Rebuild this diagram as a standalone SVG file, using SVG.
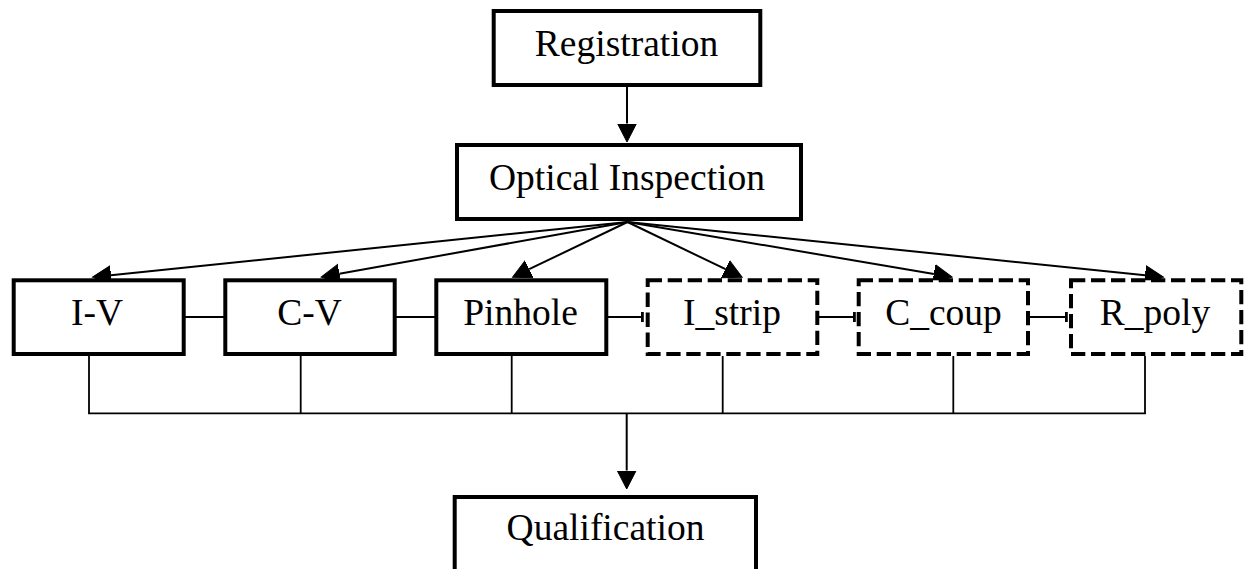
<svg xmlns="http://www.w3.org/2000/svg" width="1253" height="569" viewBox="0 0 1253 569">
<style>
.box{fill:#fff;stroke:#000;stroke-width:4}
.dbox{fill:#fff;stroke:#000;stroke-width:4;stroke-dasharray:14.3 5.7}
.lbl{font-family:"Liberation Serif","Times New Roman",serif;font-size:37.5px;fill:#000;text-anchor:middle}
.arr{fill:none;stroke:#000;stroke-width:2;marker-end:url(#ah)}
.ln{fill:none;stroke:#000;stroke-width:1.8}
.tee{fill:#000}
</style>
<defs>
<marker id="ah" markerUnits="userSpaceOnUse" viewBox="0 -11 21 22" markerWidth="21" markerHeight="22" refX="0" refY="0" orient="auto">
<path d="M0,-9.5 L18.5,0 L0,9.5 Z" fill="#000" stroke="#000" stroke-width="1"/>
</marker>
</defs>
<g id="connectors">
<line class="arr" x1="627" y1="87" x2="627" y2="123.5"/>
<line class="arr" x1="627.5" y1="222" x2="110.9" y2="275.2"/>
<line class="arr" x1="627.5" y1="222" x2="339.4" y2="273.8"/>
<line class="arr" x1="627.5" y1="222" x2="529.2" y2="269.2"/>
<line class="arr" x1="627.5" y1="222" x2="725.5" y2="269.2"/>
<line class="arr" x1="627.5" y1="222" x2="933.9" y2="274.0"/>
<line class="arr" x1="627.5" y1="222" x2="1145.1" y2="275.2"/>
<line class="ln" x1="185" y1="317" x2="224" y2="317"/>
<line class="ln" x1="396" y1="317" x2="435" y2="317"/>
<line class="ln" x1="608" y1="317" x2="643" y2="317"/>
<rect class="tee" x="641" y="312" width="2.8" height="10"/>
<line class="ln" x1="819" y1="317" x2="855" y2="317"/>
<rect class="tee" x="853" y="312" width="2.8" height="10"/>
<line class="ln" x1="1030" y1="317" x2="1067" y2="317"/>
<rect class="tee" x="1065" y="312" width="2.8" height="10"/>
<line class="ln" x1="89" y1="356" x2="89" y2="413.3"/>
<line class="ln" x1="300.7" y1="356" x2="300.7" y2="413.3"/>
<line class="ln" x1="511.7" y1="356" x2="511.7" y2="413.3"/>
<line class="ln" x1="722.7" y1="356" x2="722.7" y2="413.3"/>
<line class="ln" x1="953.3" y1="356" x2="953.3" y2="413.3"/>
<line class="ln" x1="1145" y1="356" x2="1145" y2="413.3"/>
<line class="ln" x1="88.1" y1="413.3" x2="1145.9" y2="413.3"/>
<line class="arr" x1="626.7" y1="413" x2="626.7" y2="470.5"/>
</g>
<g id="registration">
<rect class="box" x="493.7" y="11" width="266.6" height="74"/>
<text class="lbl" x="626.5" y="56">Registration</text>
</g>
<g id="optical">
<rect class="box" x="457" y="145" width="344" height="74"/>
<text class="lbl" x="627" y="190">Optical Inspection</text>
</g>
<g id="iv">
<rect class="box" x="13.7" y="280.3" width="170" height="73.7"/>
<text class="lbl" x="97" y="325">I-V</text>
</g>
<g id="cv">
<rect class="box" x="225.3" y="280.3" width="169.4" height="73.7"/>
<text class="lbl" x="309.5" y="325">C-V</text>
</g>
<g id="pinhole">
<rect class="box" x="436.3" y="280.3" width="170" height="73.7"/>
<text class="lbl" x="520.5" y="325">Pinhole</text>
</g>
<g id="istrip">
<rect class="dbox" x="647.7" y="280.3" width="169.6" height="73.7"/>
<text class="lbl" x="732" y="325">I_strip</text>
</g>
<g id="ccoup">
<rect class="dbox" x="858.7" y="280.3" width="169.3" height="73.7"/>
<text class="lbl" x="943.5" y="325">C_coup</text>
</g>
<g id="rpoly">
<rect class="dbox" x="1071" y="280.3" width="170.3" height="73.7"/>
<text class="lbl" x="1155" y="325">R_poly</text>
</g>
<g id="qualification">
<rect class="box" x="454.7" y="497" width="301.3" height="100"/>
<text class="lbl" x="605.5" y="540">Qualification</text>
</g>
</svg>
